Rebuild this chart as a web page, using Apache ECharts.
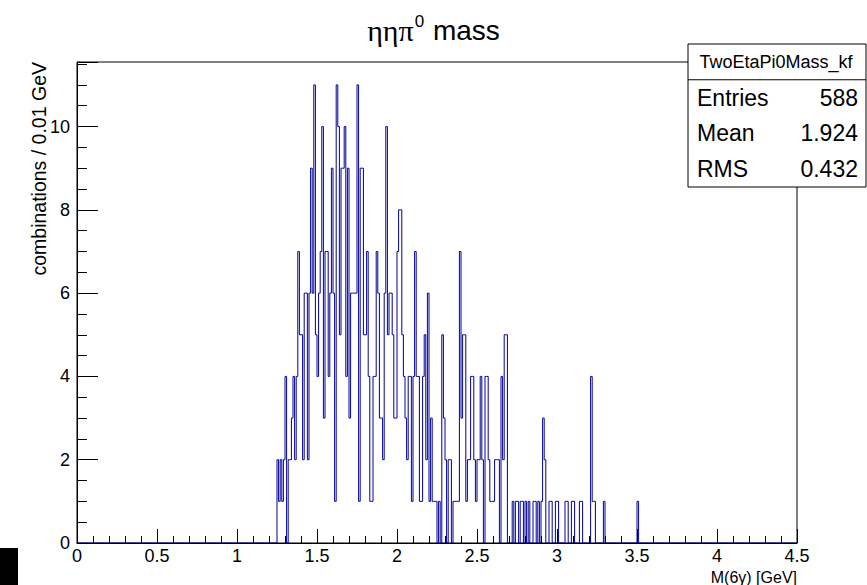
<!DOCTYPE html>
<html><head><meta charset="utf-8">
<script src="https://cdn.jsdelivr.net/npm/echarts@6/dist/echarts.min.js"></script>
<style>html,body{margin:0;padding:0;background:#fff}#c{width:867px;height:585px}</style>
</head><body><div id="c"></div>
<script>
// ---- data ----
const histName = 'TwoEtaPi0Mass_kf';
const xMin = 0, xMax = 4.5, binWidth = 0.01;
const firstBinLow = 1.25;           // low edge of first listed bin
const counts = [
  2,1,2,1,2,4,0,2,2,3,4,2,4,7,5,5,2,6,6,2,6,9,6,11,5,4,6,7,10,3,7,7,4,6,9,6,1,
  11,10,5,9,9,10,4,9,3,6,6,6,6,11,1,9,9,5,5,7,4,1,1,4,4,7,6,3,3,2,6,10,5,6,6,5,3,3,7,
  8,8,5,4,3,2,4,4,1,4,7,4,4,1,1,4,5,2,6,1,3,1,1,1,0,1,0,5,3,2,0,2,2,0,1,1,1,1,7,3,
  5,5,1,2,2,4,4,2,1,2,2,4,2,0,4,4,2,1,1,1,2,2,2,0,4,2,5,5,0,0,0,1,0,1,1,0,1,1,0,1,0,
  1,0,0,1,1,0,1,0,1,3,2,0,0,1,1,0,0,1,1,0,0,0,0,1,1,0,0,1,1,0,0,0,1,1,0,0,0,0,0,4,
  1,1,0,0,0,0,0,1,0,0,0,0,0,0,0,0,0,0,0,0,0,0,0,0,0,0,0,0,1
];
const yMax = 11.55;
const yMajorStep = 2;
const yMinorPerMajor = 4;
const statsLabels = ['Entries','Mean','RMS'];
const statsValues = ['588','1.924','0.432'];

// ---- build step data from the bins ----
const nBins = Math.round((xMax - xMin) / binWidth);
const firstIdx = Math.round((firstBinLow - xMin) / binWidth);
const bins = new Array(nBins).fill(0);
counts.forEach((v, i) => { bins[firstIdx + i] = v; });
const stepData = bins.map((v, i) => [+(xMin + i * binWidth).toFixed(2), v]);
stepData.push([xMax, bins[nBins - 1]]);

const F = "'Liberation Sans', Arial, Helvetica, sans-serif";
const chart = echarts.init(document.getElementById('c'), null, {renderer: 'svg'});

const gL = 77, gT = 62, gW = 720, gH = 481;
const box = {x: 688, y: 44, w: 178, h: 143};
const rowH = box.h / 4;
const statsGraphics = [
  {type: 'rect', shape: {x: box.x, y: box.y, width: box.w, height: box.h},
   style: {fill: '#fff', stroke: '#000', lineWidth: 1}, z: 10},
  {type: 'line', shape: {x1: box.x, y1: box.y + rowH, x2: box.x + box.w, y2: box.y + rowH},
   style: {stroke: '#000', lineWidth: 1}, z: 11},
  {type: 'text', x: box.x + box.w / 2 - 1, y: box.y + rowH / 2, z: 11,
   style: {text: histName, font: '18px ' + F, fill: '#000', textAlign: 'center', textVerticalAlign: 'middle'}}
];
statsLabels.forEach((lab, i) => {
  const cy = box.y + rowH * (i + 1.5);
  statsGraphics.push({type: 'text', x: box.x + 9, y: cy, z: 11,
    style: {text: lab, font: '23px ' + F, fill: '#000', textAlign: 'left', textVerticalAlign: 'middle'}});
  statsGraphics.push({type: 'text', x: box.x + box.w - 8, y: cy, z: 11,
    style: {text: statsValues[i], font: '23px ' + F, fill: '#000', textAlign: 'right', textVerticalAlign: 'middle'}});
});

const option = {
  backgroundColor: '#fff',
  animation: false,
  title: {
    text: '{g|ηηπ}{s|0}{m| mass}',
    left: 'center', top: 8,
    textStyle: {
      fontWeight: 'normal',
      rich: {
        g: {fontFamily: "'Liberation Serif', 'Times New Roman', serif", fontSize: 30, fontWeight: 'normal', color: '#000', lineHeight: 34},
        s: {fontFamily: F, fontSize: 17, fontWeight: 'normal', color: '#000', verticalAlign: 'top', lineHeight: 34, padding: [0, 1, 15, 1]},
        m: {fontFamily: F, fontSize: 28, fontWeight: 'normal', color: '#000', lineHeight: 34}
      }
    }
  },
  grid: {left: gL, top: gT, width: gW, height: gH, show: true, borderColor: '#000', borderWidth: 1, backgroundColor: 'transparent'},
  xAxis: {
    type: 'value', min: xMin, max: xMax, interval: 0.5, z: 6,
    axisLine: {show: true, onZero: false, lineStyle: {color: '#000', width: 1}},
    axisTick: {show: true, inside: true, length: 14, lineStyle: {color: '#000', width: 1}},
    minorTick: {show: true, splitNumber: 5, length: 7, lineStyle: {color: '#000', width: 1}},
    axisLabel: {color: '#000', fontFamily: F, fontSize: 18, margin: 4},
    splitLine: {show: false}, minorSplitLine: {show: false}
  },
  yAxis: {
    type: 'value', min: 0, max: yMax, interval: yMajorStep, z: 6,
    axisLine: {show: true, onZero: false, lineStyle: {color: '#000', width: 1}},
    axisTick: {show: true, inside: true, length: 21, lineStyle: {color: '#000', width: 1}},
    minorTick: {show: true, splitNumber: yMinorPerMajor, length: 10, lineStyle: {color: '#000', width: 1}},
    axisLabel: {color: '#000', fontFamily: F, fontSize: 18, margin: 7, showMaxLabel: false},
    splitLine: {show: false}, minorSplitLine: {show: false}
  },
  series: [{
    type: 'line', step: 'end', data: stepData,
    showSymbol: false, symbol: 'none',
    lineStyle: {color: '#000099', width: 1},
    z: 1
  }],
  graphic: [
    {type: 'text', x: 39, y: 62, rotation: Math.PI / 2,
     style: {text: 'combinations / 0.01 GeV', font: '19.5px ' + F, fill: '#000', textAlign: 'right', textVerticalAlign: 'middle'}},
    {type: 'text', x: 797, y: 577,
     style: {text: 'M(6γ) [GeV]', font: '16px ' + F, fill: '#000', textAlign: 'right', textVerticalAlign: 'middle'}},
    {type: 'rect', shape: {x: 0, y: 548, width: 18, height: 37}, style: {fill: '#000'}}
  ].concat(statsGraphics)
};
chart.setOption(option);
</script>
</body></html>
